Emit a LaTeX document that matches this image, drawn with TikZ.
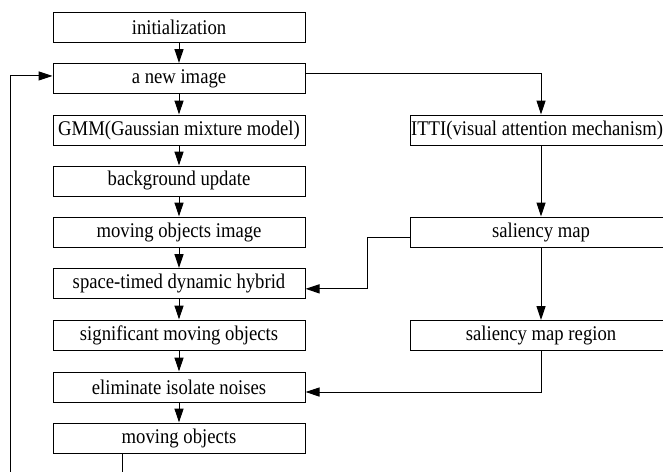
\documentclass[tikz,border=0pt]{standalone}
\usepackage{graphicx}
\usepackage{fontspec}
\setmainfont{Liberation Serif}
\usetikzlibrary{arrows.meta}
\newcommand{\stretchtxt}[1]{\scalebox{1}[1.12]{#1}}
\begin{document}
\begin{tikzpicture}[x=0.75pt,y=-0.75pt,
  box/.style={draw, line width=0.75pt, minimum height=22.5pt, inner sep=0pt,
              font=\fontsize{14}{16}\selectfont},
  lbox/.style={box, minimum width=189pt},
  rbox/.style={box, minimum width=196.5pt},
  line/.style={line width=0.75pt},
  conn/.style={line, -{Triangle[length=10.5pt,width=6.8pt]}}]
\useasboundingbox (0,0) rectangle (663,471);
\clip (0,0) rectangle (663,471);
% left column
\node[lbox] (init) at (179,27)    {\stretchtxt{initialization}};
\node[lbox] (new)  at (179,78.5)  {\stretchtxt{a new image}};
\node[lbox] (gmm)  at (179,130)   {\stretchtxt{GMM(Gaussian mixture model)}};
\node[lbox] (bg)   at (179,181)   {\stretchtxt{background update}};
\node[lbox] (moi)  at (179,232)   {\stretchtxt{moving objects image}};
\node[lbox] (st)   at (179,283.5) {\stretchtxt{space-timed dynamic hybrid}};
\node[lbox] (sig)  at (179,335)   {\stretchtxt{significant moving objects}};
\node[lbox] (elim) at (179,387)   {\stretchtxt{eliminate isolate noises}};
\node[lbox] (mo)   at (179,438)   {\stretchtxt{moving objects}};
% right column
\node[rbox] (itti) at (541,130)   {\stretchtxt{ITTI(visual attention mechanism)}\hspace*{6pt}};
\node[rbox] (sal)  at (541,232)   {\stretchtxt{saliency map}};
\node[rbox] (salr) at (541,335.5) {\stretchtxt{saliency map region}};
% vertical chain
\draw[conn] (init) -- (new);
\draw[conn] (new) -- (gmm);
\draw[conn] (gmm) -- (bg);
\draw[conn] (bg) -- (moi);
\draw[conn] (moi) -- (st);
\draw[conn] (st) -- (sig);
\draw[conn] (sig) -- (elim);
\draw[conn] (elim) -- (mo);
% right branch
\draw[conn] ([yshift=4pt]new.east) -| (itti.north);
\draw[conn] (itti) -- (sal);
\draw[conn] (sal) -- (salr);
\coordinate (sx) at (367,0);
\draw[conn] ([yshift=-3.75pt]sal.west) -| ([yshift=-4pt]st.east -| sx) -- ([yshift=-4pt]st.east);
\draw[conn] (salr.south) |- ([yshift=-3.75pt]elim.east);
% loop back
\coordinate (lb) at (10,480);
\draw[conn] (lb) |- ([yshift=1.9pt]new.west);
\coordinate (mb) at (122,480);
\draw[line] (mo.south -| mb) -- (mb);
\end{tikzpicture}
\end{document}
